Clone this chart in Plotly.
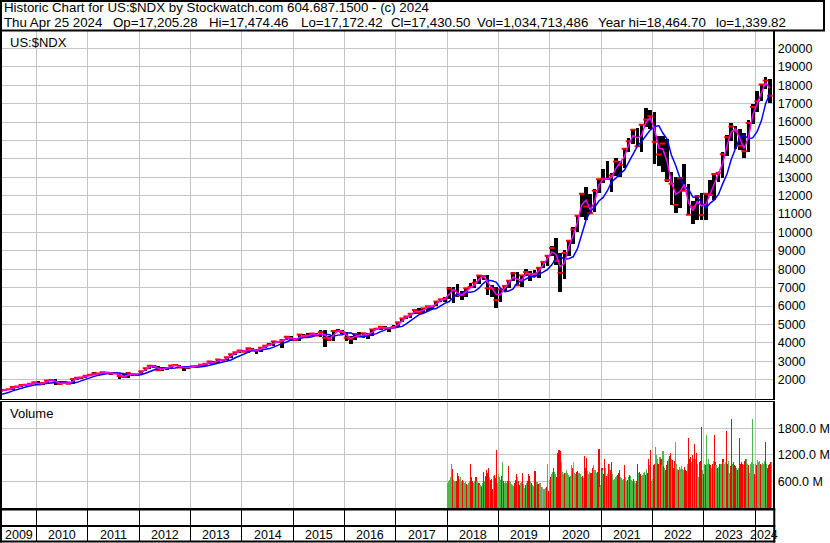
import pandas as pd
import plotly.graph_objects as go

W, H = 830, 543

# ---------------- data (monthly, Apr 2009 .. Apr 2024) ----------------
first_month = "2009-04-01"
price_high = [
    1420, 1470, 1520, 1610, 1660, 1735, 1770, 1800, 1885,
    1905, 1830, 1965, 2040, 2030, 1910, 1900, 1900, 2040, 2130, 2170, 2230,
    2290, 2400, 2370, 2400, 2420, 2390, 2440, 2370, 2330, 2430, 2390, 2330,
    2470, 2630, 2780, 2795, 2740, 2620, 2680, 2780, 2880, 2810, 2680, 2740,
    2750, 2780, 2820, 2870, 3020, 3020, 3110, 3130, 3230, 3380, 3500, 3600,
    3630, 3720, 3740, 3650, 3740, 3860, 3990, 4090, 4130, 4170, 4340, 4360,
    4280, 4480, 4480, 4520, 4520, 4550, 4700, 4700, 4400, 4650, 4730, 4710,
    4600, 4360, 4490, 4570, 4530, 4550, 4740, 4800, 4880, 4900, 4890, 4970,
    5130, 5330, 5460, 5620, 5800, 5900, 5920, 5990, 6000, 6270, 6370, 6490,
    7020, 7030, 7190, 6800, 6990, 7280, 7460, 7670, 7700, 7690, 7140, 7040,
    6920, 7130, 7380, 7850, 7850, 7690, 8030, 7890, 7950, 8100, 8440, 8780,
    9260, 9720, 8860, 9070, 9610, 10300, 10950, 12130, 12470, 12070, 12350, 12890,
    13450, 13880, 13240, 14060, 13910, 14570, 15130, 15600, 15700, 15860, 16760, 16660,
    16570, 15260, 15270, 15090, 13300, 13000, 13000, 13720, 12660, 11700, 12030, 12170,
    12170, 12880, 13210, 13300, 14400, 15290, 15930, 15800, 15600, 15400, 16100, 16970,
    17670, 18040, 18465, 18350,
]
price_low = [
    1240, 1380, 1430, 1430, 1560, 1600, 1680, 1700, 1760,
    1740, 1700, 1810, 1930, 1700, 1750, 1740, 1770, 1780, 2000, 2060, 2110,
    2190, 2260, 2200, 2310, 2320, 2230, 2300, 2040, 2110, 2100, 2200, 2210,
    2270, 2450, 2600, 2660, 2500, 2470, 2550, 2620, 2750, 2640, 2500, 2600,
    2690, 2690, 2740, 2740, 2860, 2860, 2920, 3060, 3080, 3160, 3360, 3440,
    3480, 3430, 3540, 3410, 3530, 3720, 3830, 3850, 4020, 3700, 4150, 4100,
    4080, 4130, 4290, 4290, 4370, 4390, 4340, 3800, 4100, 4130, 4580, 4500,
    4090, 3950, 4180, 4300, 4290, 4200, 4400, 4700, 4690, 4780, 4600, 4800,
    4880, 5110, 5310, 5340, 5580, 5580, 5630, 5750, 5860, 5980, 6200, 6250,
    6390, 6170, 6480, 6310, 6480, 6990, 6970, 7190, 7400, 6620, 6500, 5900,
    6210, 6820, 6970, 7380, 7100, 7020, 7650, 7340, 7600, 7550, 8070, 8160,
    8750, 8250, 6770, 7500, 8700, 9400, 10040, 10830, 10680, 11000, 11100, 12170,
    12690, 12920, 12210, 13090, 13000, 13500, 14400, 14800, 14630, 14400, 15750, 15600,
    13720, 13630, 13300, 12730, 11500, 11040, 11320, 12270, 10970, 10440, 10680, 10670,
    10700, 11970, 11750, 12720, 12960, 14160, 15000, 14560, 14500, 14060, 14400, 15880,
    16540, 17150, 17800, 17030,
]
price_close = [
    1417, 1445, 1477, 1600, 1632, 1718, 1720, 1777, 1860,
    1741, 1817, 1957, 1970, 1859, 1760, 1851, 1779, 2034, 2110, 2122, 2218,
    2266, 2340, 2338, 2400, 2381, 2336, 2360, 2200, 2150, 2350, 2302, 2277,
    2460, 2620, 2755, 2720, 2515, 2616, 2630, 2772, 2800, 2660, 2677, 2660,
    2731, 2738, 2818, 2860, 2988, 2909, 3096, 3070, 3218, 3378, 3487, 3592,
    3521, 3714, 3596, 3580, 3736, 3849, 3917, 4082, 4050, 4158, 4334, 4236,
    4151, 4454, 4334, 4415, 4509, 4397, 4589, 4275, 4181, 4648, 4664, 4593,
    4280, 4202, 4484, 4341, 4523, 4418, 4731, 4771, 4875, 4801, 4805, 4864,
    5118, 5331, 5436, 5584, 5789, 5647, 5880, 5988, 5980, 6248, 6367, 6397,
    6950, 6855, 6582, 6605, 6968, 7040, 7272, 7660, 7628, 6967, 6949, 6330,
    6907, 7097, 7378, 7781, 7128, 7671, 7848, 7692, 7750, 8083, 8403, 8733,
    9151, 8462, 7813, 8890, 9555, 10157, 10905, 12111, 11418, 11052, 12268, 12888,
    12925, 12909, 13091, 13861, 13687, 14554, 14959, 15583, 14690, 15850, 16135, 16320,
    14931, 14238, 14838, 12855, 12643, 11504, 12947, 12272, 10971, 11406, 11952, 10940,
    12102, 12043, 13182, 13246, 14254, 15180, 15758, 15501, 14715, 14410, 15947, 16826,
    17137, 18044, 18255, 17430,
]
ma_short = [
    1327, 1431, 1461, 1538, 1616, 1675, 1719, 1748, 1818,
    1800, 1779, 1887, 1963, 1914, 1810, 1805, 1815, 1906, 2072, 2116, 2170,
    2242, 2303, 2339, 2369, 2390, 2358, 2348, 2280, 2175, 2250, 2326, 2290,
    2368, 2540, 2688, 2738, 2618, 2566, 2623, 2701, 2786, 2730, 2668, 2668,
    2696, 2735, 2778, 2839, 2924, 2949, 3003, 3083, 3144, 3298, 3433, 3540,
    3557, 3618, 3655, 3588, 3658, 3793, 3883, 4000, 4066, 4104, 4246, 4285,
    4194, 4303, 4394, 4375, 4462, 4453, 4493, 4432, 4228, 4415, 4656, 4629,
    4437, 4241, 4343, 4413, 4432, 4471, 4575, 4751, 4823, 4838, 4803, 4835,
    4991, 5225, 5384, 5510, 5687, 5718, 5764, 5934, 5984, 6114, 6308, 6382,
    6674, 6903, 6719, 6594, 6787, 7004, 7156, 7466, 7644, 7298, 6958, 6640,
    6619, 7002, 7238, 7580, 7455, 7400, 7760, 7770, 7721, 7917, 8243, 8568,
    8942, 8807, 8138, 8352, 9223, 9856, 10531, 11508, 11765, 11235, 11660, 12578,
    12907, 12917, 13000, 13476, 13774, 14121, 14757, 15271, 15137, 15270, 15993, 16228,
    15626, 14585, 14538, 13847, 12749, 12074, 12226, 12610, 11622, 11189, 11679, 11446,
    11521, 12073, 12613, 13214, 13750, 14717, 15469, 15630, 15108, 14563, 15179, 16387,
    16982, 17591, 18150, 17843,
]
ma_long = [
    1178, 1229, 1303, 1394, 1485, 1539, 1607, 1668, 1712,
    1769, 1775, 1799, 1844, 1871, 1901, 1887, 1860, 1812, 1856, 1944, 2011,
    2121, 2179, 2237, 2291, 2336, 2365, 2364, 2369, 2319, 2262, 2265, 2251,
    2270, 2347, 2415, 2528, 2639, 2653, 2652, 2620, 2633, 2705, 2716, 2727,
    2699, 2682, 2702, 2737, 2787, 2851, 2894, 2963, 3016, 3073, 3191, 3288,
    3419, 3495, 3579, 3606, 3603, 3657, 3690, 3771, 3896, 3975, 4052, 4156,
    4195, 4220, 4294, 4294, 4339, 4428, 4414, 4478, 4443, 4361, 4423, 4442,
    4522, 4546, 4435, 4390, 4327, 4388, 4442, 4503, 4611, 4699, 4795, 4813,
    4836, 4897, 5030, 5187, 5367, 5535, 5614, 5725, 5826, 5874, 6024, 6146,
    6248, 6491, 6642, 6696, 6748, 6753, 6799, 6971, 7235, 7400, 7382, 7301,
    6969, 6788, 6821, 6928, 7291, 7346, 7490, 7607, 7585, 7740, 7843, 7982,
    8242, 8593, 8687, 8540, 8579, 8680, 9104, 9877, 10682, 11148, 11372, 11712,
    11907, 12283, 12748, 12953, 13197, 13387, 13798, 14265, 14696, 14947, 15271, 15565,
    15749, 15809, 15406, 15082, 14216, 13644, 12960, 12487, 12342, 11924, 11899, 11650,
    11317, 11600, 11759, 12067, 12643, 13181, 13966, 14610, 15173, 15289, 15096, 15143,
    15475, 16080, 16989, 17566,
]

# ---------------- weekly volume (millions), Jan 2018 .. Apr 2024 ----------------
first_week = "2018-01-03"
vol_2018 = [560, 610, 640, 700, 990, 880, 640, 600, 620, 600, 780, 720, 650, 700, 620, 640, 600,
            560, 580, 540, 520, 560, 600, 1000, 700, 620, 480, 560, 600, 700, 620, 540, 560, 520,
            500, 480, 560, 820, 600, 720, 860, 800, 900, 700, 640, 660, 420, 720, 740, 680, 1300, 560]
vol_2019 = [760, 700, 640, 720, 1040, 620, 560, 600, 560, 600, 950, 620, 580, 540, 520, 500, 560,
            640, 760, 700, 600, 520, 560, 580, 780, 540, 460, 520, 560, 620, 760, 720, 620, 560,
            520, 500, 560, 840, 560, 580, 540, 520, 560, 480, 460, 470, 440, 420, 460, 480, 990, 380]
vol_2020 = [640, 700, 760, 820, 900, 820, 760, 700, 1250, 1300, 1320, 1280, 1050, 820, 760, 780, 800,
            860, 780, 740, 700, 720, 960, 900, 1030, 780, 760, 820, 840, 800, 780, 760, 700, 720,
            680, 1180, 900, 1120, 840, 760, 820, 780, 800, 900, 980, 780, 860, 640, 780, 820, 1340, 480]
vol_2021 = [520, 900, 860, 760, 1100, 900, 720, 760, 1000, 1000, 860, 1050, 760, 640, 660, 700, 720,
            740, 780, 860, 700, 680, 640, 660, 970, 700, 620, 640, 700, 740, 720, 640, 600, 660,
            620, 560, 620, 1000, 780, 820, 760, 720, 740, 780, 820, 740, 880, 780, 1100, 980, 1300,
            620, 660]
vol_2022 = [960, 1000, 1380, 1200, 1100, 1000, 960, 1150, 1100, 980, 1280, 940, 900, 860, 960, 1060,
            1100, 1180, 1250, 1100, 1080, 900, 1060, 1490, 1000, 880, 860, 920, 880, 940, 880, 860,
            920, 860, 840, 1000, 1580, 1100, 1150, 1050, 1200, 1100, 1450, 1100, 1250, 1000, 700,
            1050, 1060, 1830, 860, 760]
vol_2023 = [1000, 960, 1650, 1000, 1100, 1000, 980, 900, 1000, 1060, 1650, 1050, 980, 880, 900, 920,
            1000, 1000, 920, 1100, 1050, 1000, 1050, 1740, 1000, 1060, 800, 940, 2010, 1000, 1050,
            980, 940, 900, 860, 900, 1580, 1000, 1050, 1000, 980, 1060, 1100, 1100, 1000, 960, 780,
            1000, 1050, 2010, 1000, 760]
vol_2024 = [1000, 960, 1080, 1040, 1060, 1000, 980, 1020, 1000, 1060, 1500, 1000, 900, 960, 1000,
            1050, 1030]
# g = up week, r = down week, x = unchanged (grey)
dir_2018 = "gggg grgg grrrg ggrg ggrg ggrrr gggr ggrgg rgrg rrrr grrrg rrrg"
dir_2019 = "gggr grgg grrgg gggr rrgrr ggrg grgr rrgrg ggrr grrg ggxgg grgr"
dir_2020 = "grggr ggrr rrrg ggrg gggrg grxg grrgg ggrg rrrg ggrrr grgg grrg"
dir_2021 = "grgrr grgr grrg ggggr rrgg ggrg grgrg ggrg grrg rrggg grgr rgrgg"
dir_2022 = "rrgg grrg rggr grrrg rrgr rrgg grggg ggrr rgrrr grgr grgg rrrgr"
dir_2023 = "grgg grrg rgrrg grgr ggrg gxrrg grrg rrrg rgrrr rgrr ggrg ggggr"
dir_2024 = "grgg grgg ggrgr rrrg"

years = list(range(2009, 2025))
price_ticks = list(range(2000, 21000, 1000))
volume_ticks = [600, 1200, 1800]
volume_tick_text = ["600.0 M", "1200.0 M", "1800.0 M"]

header_line1 = "Historic Chart for US:$NDX by Stockwatch.com 604.687.1500 - (c) 2024"
header_fields = ["Thu Apr 25 2024", "Op=17,205.28", "Hi=17,474.46", "Lo=17,172.42",
                 "Cl=17,430.50", "Vol=1,034,713,486", "Year hi=18,464.70", "lo=1,339.82"]
price_label = "US:$NDX"
volume_label = "Volume"

# ---------------- build ----------------
FONT = "Arial, Liberation Sans, sans-serif"
GRID = "#c4c4c4"
GREEN, RED, GREY = "#4cb84c", "#ff0000", "#a0a0a0"
DAY = 86400000

months = pd.date_range(first_month, periods=len(price_close), freq="MS") + pd.Timedelta(days=14)
volume = vol_2018 + vol_2019 + vol_2020 + vol_2021 + vol_2022 + vol_2023 + vol_2024
dirs = (dir_2018 + dir_2019 + dir_2020 + dir_2021 + dir_2022 + dir_2023 + dir_2024).replace(" ", "")
cmap = {"g": GREEN, "r": RED, "x": GREY}
vol_colors = [cmap[c] for c in dirs[:len(volume)]]
weeks = pd.date_range(first_week, periods=len(volume), freq="7D")

fig = go.Figure()
fig.add_trace(go.Bar(x=months, y=[h - l for h, l in zip(price_high, price_low)], base=price_low,
                     width=26 * DAY, marker=dict(color="black", line=dict(width=0)),
                     xaxis="x", yaxis="y", hoverinfo="skip"))
fig.add_trace(go.Scatter(x=months, y=price_close, mode="markers",
                         marker=dict(symbol="line-ew", size=4, line=dict(color=RED, width=2)),
                         xaxis="x", yaxis="y", hoverinfo="skip"))
fig.add_trace(go.Scatter(x=months, y=ma_long, mode="lines", line=dict(color="#0000ff", width=1.5),
                         xaxis="x", yaxis="y", hoverinfo="skip"))
fig.add_trace(go.Scatter(x=months, y=ma_short, mode="lines", line=dict(color="#ff00ff", width=1.5),
                         xaxis="x", yaxis="y", hoverinfo="skip"))
fig.add_trace(go.Bar(x=weeks, y=volume, width=8 * DAY, marker=dict(color=vol_colors, line=dict(width=0)),
                     xaxis="x2", yaxis="y2", hoverinfo="skip"))

# layout geometry (pixels)
X0, X1 = 2, 777
P_TOP, P_BOT = 31, 399
V_TOP, V_BOT = 402, 508
x_range = ["2009-04-30", "2024-05-09"]
year_bounds = [f"{y}-01-01" for y in years[1:]]


def py(p):
    return 1 - p / H


def px(p):
    return p / W


common_x = dict(type="date", range=x_range, tickvals=year_bounds, showgrid=True, gridcolor=GRID,
                gridwidth=1, showline=True, linecolor="black", linewidth=1, mirror=True,
                zeroline=False, fixedrange=True, domain=[px(X0), px(X1)], showticklabels=False)
tickfont = dict(family=FONT, size=12.5, color="black")

fig.update_layout(
    width=W, height=H, autosize=False, margin=dict(l=0, r=0, t=0, b=0),
    paper_bgcolor="white", plot_bgcolor="white", showlegend=False, barmode="overlay", bargap=0,
    font=dict(family=FONT, size=13, color="black"),
    xaxis=dict(**common_x, anchor="y", ticks=""),
    xaxis2=dict(**common_x, anchor="y2", ticks="outside", ticklen=33, tickcolor="black", tickwidth=1),
    yaxis=dict(domain=[py(P_BOT), py(P_TOP)], range=[951, 20951], side="right", anchor="x",
               tickvals=price_ticks, tickformat="d", showgrid=True, gridcolor=GRID, gridwidth=1,
               showline=True, linecolor="black", linewidth=2, mirror=True, ticks="",
               zeroline=False, tickfont=tickfont, fixedrange=True),
    yaxis2=dict(domain=[py(V_BOT), py(V_TOP)], range=[0, 2394], side="right", anchor="x2",
                tickvals=volume_ticks, ticktext=volume_tick_text, showgrid=True, gridcolor=GRID,
                gridwidth=1, showline=True, linecolor="black", linewidth=2, mirror=True, ticks="",
                zeroline=False, tickfont=tickfont, fixedrange=True),
)

shapes = [
    # header box
    dict(type="rect", xref="paper", yref="paper", x0=px(1), x1=px(828), y0=py(1), y1=py(30.5),
         line=dict(color="black", width=2)),
    # date strip below the volume panel
    dict(type="line", xref="paper", yref="paper", x0=px(0), x1=px(779), y0=py(509.5), y1=py(509.5),
         line=dict(color="black", width=2)),
    dict(type="line", xref="paper", yref="paper", x0=px(0), x1=px(779), y0=py(526), y1=py(526),
         line=dict(color="black", width=2)),
    dict(type="line", xref="paper", yref="paper", x0=px(0), x1=px(779), y0=py(541.5), y1=py(541.5),
         line=dict(color="black", width=2)),
    dict(type="line", xref="paper", yref="paper", x0=px(1), x1=px(1), y0=py(508), y1=py(542.5),
         line=dict(color="black", width=2)),
    dict(type="line", xref="paper", yref="paper", x0=px(778), x1=px(778), y0=py(508), y1=py(542.5),
         line=dict(color="black", width=2)),
]
fig.update_layout(shapes=shapes)

ann = []
ann.append(dict(text=header_line1, xref="paper", yref="paper", x=px(2), y=py(7.5),
                xanchor="left", yanchor="middle", showarrow=False, font=dict(size=13.3)))
field_x = [2, 112, 208, 300, 391, 477, 599, 717]
for t, fx in zip(header_fields, field_x):
    ann.append(dict(text=t, xref="paper", yref="paper", x=px(fx), y=py(22),
                    xanchor="left", yanchor="middle", showarrow=False, font=dict(size=13.3)))
ann.append(dict(text=price_label, xref="paper", yref="paper", x=px(8), y=py(42),
                xanchor="left", yanchor="middle", showarrow=False, font=dict(size=13)))
ann.append(dict(text=volume_label, xref="paper", yref="paper", x=px(8), y=py(413.5),
                xanchor="left", yanchor="middle", showarrow=False, font=dict(size=13)))

# year labels centred in the visible part of each year cell
r0, r1 = pd.Timestamp(x_range[0]), pd.Timestamp(x_range[1])
for y in years:
    a = max(pd.Timestamp(f"{y}-01-01"), r0)
    b = min(pd.Timestamp(f"{y + 1}-01-01"), r1)
    mid = a + (b - a) / 2
    ann.append(dict(text=str(y), xref="x2", yref="paper", x=mid, y=py(534.5),
                    xanchor="center", yanchor="middle", showarrow=False,
                    font=dict(size=12.5)))
fig.update_layout(annotations=ann)

fig.write_html("out.html", config={"displayModeBar": False, "staticPlot": True},
               post_script="document.body.style.margin='0';document.body.style.overflow='hidden';")
